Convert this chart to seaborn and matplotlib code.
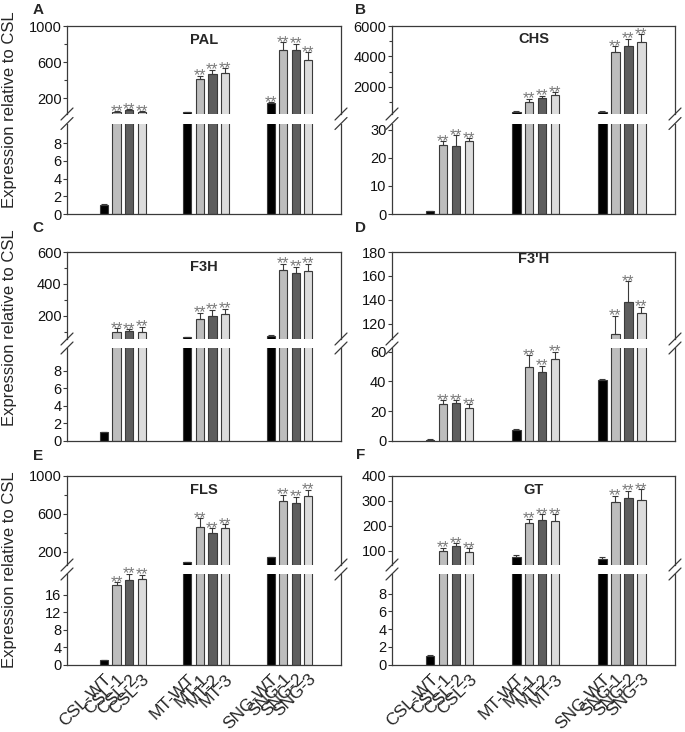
import numpy as np
import pandas as pd
import matplotlib
matplotlib.use("Agg")
import matplotlib.pyplot as plt
from matplotlib.lines import Line2D
import seaborn as sns

# Sample names and line type (controls bar colour)
samples = ["CSL-WT", "CSL-1", "CSL-2", "CSL-3",
           "MT-WT", "MT-1", "MT-2", "MT-3",
           "SNG-WT", "SNG-1", "SNG-2", "SNG-3"]
line_kind = ["WT", "1", "2", "3"] * 3

genes = ["PAL", "CHS", "F3H", "F3'H", "FLS", "GT"]
letters = ["A", "B", "C", "D", "E", "F"]

# Expression relative to CSL (mean), error bar (upper) and ** marks
pal_mean = [1.0, 52, 75, 52, 45, 410, 469, 483, 150, 734, 734, 624]
pal_err = [0.1, 5, 5, 5, 3, 40, 47, 49, 8, 85, 70, 85]
pal_sig = [0, 1, 1, 1, 0, 1, 1, 1, 1, 1, 1, 1]

chs_mean = [1.0, 24.5, 24.3, 26, 360, 980, 1240, 1456, 360, 4295, 4669, 4951]
chs_err = [0.1, 1.5, 3.8, 1.0, 20, 210, 170, 175, 20, 375, 505, 505]
chs_sig = [0, 1, 1, 1, 0, 1, 1, 1, 0, 1, 1, 1]

f3h_mean = [1.0, 101, 105, 101, 66, 179, 202, 213, 74, 485, 469, 479]
f3h_err = [0.05, 22, 12, 30, 4, 42, 36, 31, 10, 42, 37, 46]
f3h_sig = [0, 1, 1, 1, 0, 1, 1, 1, 0, 1, 1, 1]

f3ph_mean = [1.0, 24.9, 25.8, 22.4, 7.4, 50, 46.5, 55, 41, 111, 138, 129]
f3ph_err = [0.1, 2.6, 1.7, 2.2, 0.4, 7.5, 4, 5, 0.8, 15.5, 17.5, 5]
f3ph_sig = [0, 1, 1, 1, 0, 1, 1, 1, 0, 1, 1, 1]

fls_mean = [1.0, 18.3, 19.5, 19.6, 92, 465, 402, 448, 145, 737, 709, 786]
fls_err = [0.1, 0.6, 1.3, 1.0, 5, 88, 46, 42, 5, 59, 69, 63]
fls_sig = [0, 1, 1, 1, 0, 1, 1, 1, 0, 1, 1, 1]

gt_mean = [1.0, 101, 121, 97, 75, 210, 223, 219, 68, 296, 310, 303]
gt_err = [0.1, 12, 10, 14, 9, 17, 23, 27, 9, 23, 29, 43]
gt_sig = [0, 1, 1, 1, 0, 1, 1, 1, 0, 1, 1, 1]

means = [pal_mean, chs_mean, f3h_mean, f3ph_mean, fls_mean, gt_mean]
errs = [pal_err, chs_err, f3h_err, f3ph_err, fls_err, gt_err]
sigs = [pal_sig, chs_sig, f3h_sig, f3ph_sig, fls_sig, gt_sig]

# Broken y-axis settings per panel
axis_cfg = [
    dict(up=(26, 1000), lo=(0, 10.2), up_ticks=[200, 600, 1000], up_minor=[400, 800],
         lo_ticks=[0, 2, 4, 6, 8], title_dy=14),
    dict(up=(205, 6000), lo=(0, 32.3), up_ticks=[2000, 4000, 6000], up_minor=[1000, 3000, 5000],
         lo_ticks=[0, 10, 20, 30], title_dy=13),
    dict(up=(56, 600), lo=(0, 10.6), up_ticks=[200, 400, 600], up_minor=[100, 300, 500],
         lo_ticks=[0, 2, 4, 6, 8], title_dy=15),
    dict(up=(107, 180), lo=(0, 62.5), up_ticks=[120, 140, 160, 180], up_minor=[],
         lo_ticks=[0, 20, 40, 60], title_dy=6.5),
    dict(up=(64, 1000), lo=(0, 20.8), up_ticks=[200, 600, 1000], up_minor=[400, 800],
         lo_ticks=[0, 4, 8, 12, 16], title_dy=14),
    dict(up=(44, 400), lo=(0, 10.2), up_ticks=[100, 200, 300, 400], up_minor=[],
         lo_ticks=[0, 2, 4, 6, 8], title_dy=14.5),
]

colors = {"WT": "#000000", "1": "#bdbdbd", "2": "#5e5e5e", "3": "#dcdcdc"}
edge = "#3a3a3a"
star_color = "#7a7a7a"

sns.set_theme(style="ticks")
plt.rcParams["font.family"] = ["Liberation Sans", "DejaVu Sans"]

W, H = 685, 732
fig = plt.figure(figsize=(W / 100, H / 100), dpi=100)


def frac(x0, y0, x1, y1):
    return [x0 / W, 1 - y1 / H, (x1 - x0) / W, (y1 - y0) / H]


def slash(xc, yc):
    fig.add_artist(Line2D([(xc - 6) / W, (xc + 6) / W],
                          [1 - (yc + 6) / H, 1 - (yc - 6) / H],
                          transform=fig.transFigure, color=edge, lw=0.9))


# pixel layout: rows (top, upper bottom, lower top, bottom), cols (left, right)
rows = [(26, 114, 123.5, 214), (252, 339, 348, 441), (475.5, 565, 574, 664.5)]
cols = [(67, 341), (392, 675)]
letter_pos = [(38, 10), (361, 10), (38, 228), (361, 228), (38, 456), (361, 455)]
ylabel_y = [110, 328, 570]

xpos = [g * 6.65 + i for g in range(3) for i in range(4)]

for k, gene in enumerate(genes):
    r, c = divmod(k, 2)
    top, ub, lt, bot = rows[r]
    left, right = cols[c]
    cfg = axis_cfg[k]
    m = np.array(means[k], dtype=float)
    e = np.array(errs[k], dtype=float)

    ax_up = fig.add_axes(frac(left, top, right, ub))
    ax_lo = fig.add_axes(frac(left, lt, right, bot))
    df = pd.DataFrame({"x": xpos, "value": m, "kind": line_kind})

    for ax in (ax_up, ax_lo):
        sns.barplot(data=df, x="x", y="value", hue="kind", palette=colors,
                    hue_order=["WT", "1", "2", "3"], native_scale=True, dodge=False,
                    width=0.65, errorbar=None, edgecolor=edge, linewidth=0.8,
                    legend=False, ax=ax)
        ax.errorbar(xpos, m, yerr=[np.zeros(len(m)), e], fmt="none", ecolor=edge,
                    elinewidth=0.8, capsize=2.2, capthick=0.8)
        ax.set_xlim(-2.95, 18.9)
        ax.set_xlabel("")
        ax.set_ylabel("")
        for s in ax.spines.values():
            s.set_color(edge)
            s.set_linewidth(0.9)
        ax.tick_params(axis="y", which="major", left=True, right=False, direction="out",
                       length=3, width=0.8, pad=1, labelsize=10.5, color=edge,
                       labelcolor="#111111")
        ax.tick_params(axis="y", which="minor", left=True, right=False, direction="out",
                       length=2, width=0.8, color=edge)

    ax_up.spines["bottom"].set_visible(False)
    ax_lo.spines["top"].set_visible(False)
    ax_up.set_ylim(*cfg["up"])
    ax_lo.set_ylim(*cfg["lo"])
    ax_up.set_yticks(cfg["up_ticks"])
    ax_up.set_yticks(cfg["up_minor"], minor=True)
    ax_lo.set_yticks(cfg["lo_ticks"])
    ax_up.set_xticks([])

    if r == 2:
        ax_lo.set_xticks(xpos)
        ax_lo.set_xticklabels(samples, rotation=45, ha="right", rotation_mode="anchor",
                              fontsize=12.5)
        ax_lo.tick_params(axis="x", length=0, pad=5)
    else:
        ax_lo.set_xticks([])

    # significance marks
    for x, mv, ev, s in zip(xpos, m, e, sigs[k]):
        if not s:
            continue
        tv = mv + ev
        ax = ax_up if tv > cfg["lo"][1] else ax_lo
        ax.annotate("**", (x, tv), xytext=(0, -3.3), textcoords="offset points",
                    ha="center", va="baseline", fontsize=11.5, color=star_color,
                    annotation_clip=False)

    ax_up.text(0.5, 1 - cfg["title_dy"] / (ub - top), gene, transform=ax_up.transAxes,
               ha="center", va="center", fontweight="bold", fontsize=10.5)

    # axis break marks
    for xs in (left, right):
        slash(xs, ub)
        slash(xs, lt)

    lx, ly = letter_pos[k]
    fig.text(lx / W, 1 - ly / H, letters[k], ha="center", va="center",
             fontweight="bold", fontsize=11)

for yc in ylabel_y:
    fig.text(10 / W, 1 - yc / H, "Expression relative to CSL", rotation=90,
             ha="center", va="center", fontsize=12)

fig.savefig("out.png", dpi=100)
